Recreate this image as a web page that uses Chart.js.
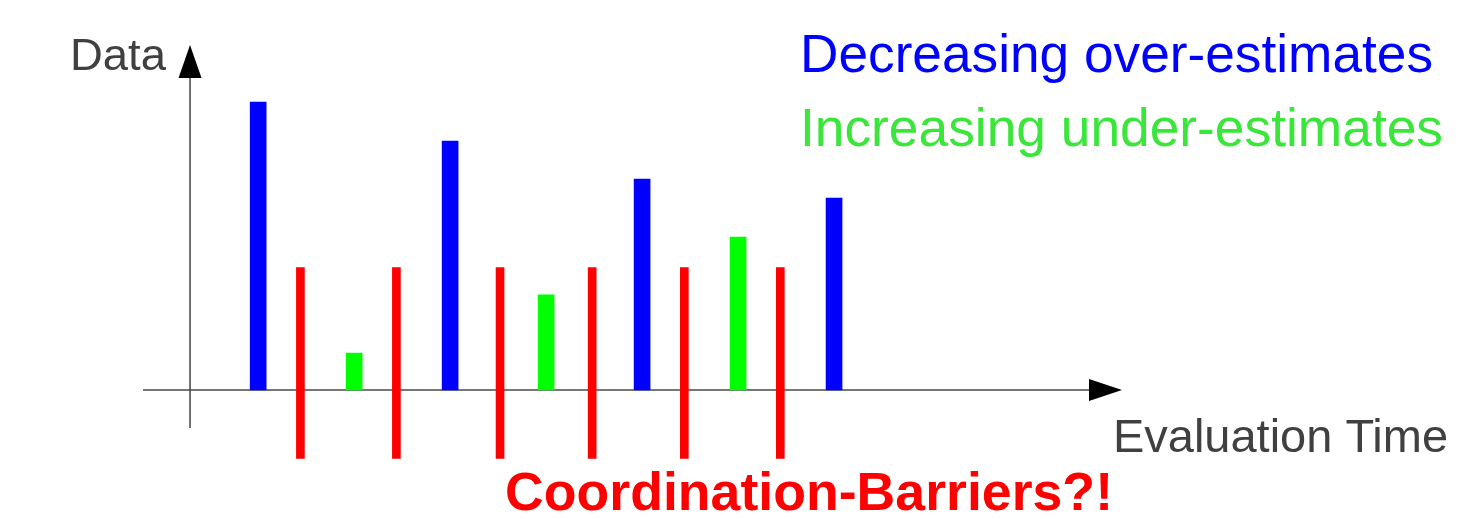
<!DOCTYPE html>
<html>
<head>
<meta charset="utf-8">
<script src="https://cdn.jsdelivr.net/npm/chart.js@4"></script>
<style>
  html, body { margin: 0; padding: 0; background: #fff; }
  #chart { display: block; }
</style>
</head>
<body>
<canvas id="chart" width="1459" height="519"></canvas>
<script>
// evaluation time slots (x) and estimate heights (y)
const overTimes = [1, 3, 5, 7];
const overValues = [9.6, 8.3, 7.03, 6.4];
const underTimes = [2, 4, 6];
const underValues = [1.23, 3.17, 5.1];
const barrierTimes = [1.44, 2.44, 3.52, 4.48, 5.44, 6.44];
const barrierLow = [-2.28, -2.28, -2.28, -2.28, -2.28, -2.28];
const barrierHigh = [4.08, 4.08, 4.08, 4.08, 4.08, 4.08];

const legendLabels = ['Decreasing over-estimates', 'Increasing under-estimates'];
const yTitle = 'Data';
const xTitle = 'Evaluation Time';
const barrierTitle = 'Coordination-Barriers?!';

const FONT = '"Liberation Sans", Arial, sans-serif';

// draw text with a given baseline, optionally stretched to a width
function drawLabel(ctx, text, x, y, font, color, width) {
  ctx.save();
  ctx.font = font;
  ctx.fillStyle = color;
  ctx.textBaseline = 'alphabetic';
  ctx.textAlign = 'left';
  const w = ctx.measureText(text).width;
  const sx = width ? width / w : 1;
  ctx.translate(x, y);
  ctx.scale(sx, 1);
  ctx.fillText(text, 0, 0);
  ctx.restore();
}

// axes with arrow heads, drawn under the bars
const axesPlugin = {
  id: 'axes',
  beforeDatasetsDraw(chart) {
    const ctx = chart.ctx;
    const xs = chart.scales.x, ys = chart.scales.y;
    const area = chart.chartArea;
    const y0 = ys.getPixelForValue(0);
    const x0 = xs.getPixelForValue(0.29);

    ctx.save();
    // horizontal axis
    ctx.strokeStyle = '#777777';
    ctx.lineWidth = 2;
    ctx.beginPath();
    ctx.moveTo(area.left, y0);
    ctx.lineTo(area.right - 30, y0);
    ctx.stroke();
    ctx.fillStyle = '#000';
    ctx.beginPath();
    ctx.moveTo(area.right, y0);
    ctx.lineTo(area.right - 33, y0 - 11);
    ctx.lineTo(area.right - 33, y0 + 11);
    ctx.closePath();
    ctx.fill();

    // vertical axis
    ctx.strokeStyle = '#444444';
    ctx.lineWidth = 1.5;
    ctx.beginPath();
    ctx.moveTo(x0, ys.getPixelForValue(-1.27));
    ctx.lineTo(x0, area.top + 30);
    ctx.stroke();
    ctx.beginPath();
    ctx.moveTo(x0, area.top);
    ctx.lineTo(x0 - 11.5, area.top + 33);
    ctx.lineTo(x0 + 11.5, area.top + 33);
    ctx.closePath();
    ctx.fill();
    ctx.restore();
  },
  afterDraw(chart) {
    const ctx = chart.ctx;
    drawLabel(ctx, yTitle, 70, 70, '44px ' + FONT, '#404040', 96);
    drawLabel(ctx, legendLabels[0], 800, 72, '53px ' + FONT, '#0000ff', 633);
    drawLabel(ctx, legendLabels[1], 800, 146, '53px ' + FONT, '#3ae63a', 643);
    drawLabel(ctx, xTitle, 1113, 452, '46px ' + FONT, '#404040', 335);
    drawLabel(ctx, barrierTitle, 505, 510, 'bold 53px ' + FONT, '#ff0000', 608);
  }
};

const overData = overTimes.map((t, i) => ({ x: t, y: [0, overValues[i]] }));
const underData = underTimes.map((t, i) => ({ x: t, y: [0, underValues[i]] }));
const barrierData = barrierTimes.map((t, i) => ({ x: t, y: [barrierLow[i], barrierHigh[i]] }));

new Chart(document.getElementById('chart'), {
  type: 'bar',
  data: {
    datasets: [
      { label: legendLabels[0], data: overData, backgroundColor: '#0000ff', barThickness: 16 },
      { label: legendLabels[1], data: underData, backgroundColor: '#00ff00', barThickness: 16 },
      { label: barrierTitle, data: barrierData, backgroundColor: '#ff0000', barThickness: 8 }
    ]
  },
  options: {
    responsive: false,
    animation: false,
    grouped: false,
    layout: { padding: { left: 143, right: 337, top: 45, bottom: 54 } },
    plugins: {
      legend: { display: false },
      title: { display: false },
      tooltip: { enabled: false }
    },
    scales: {
      x: { type: 'linear', min: -0.2, max: 10, offset: false, display: false },
      y: { min: -2.5, max: 11.5, display: false }
    }
  },
  plugins: [axesPlugin]
});
</script>
</body>
</html>
